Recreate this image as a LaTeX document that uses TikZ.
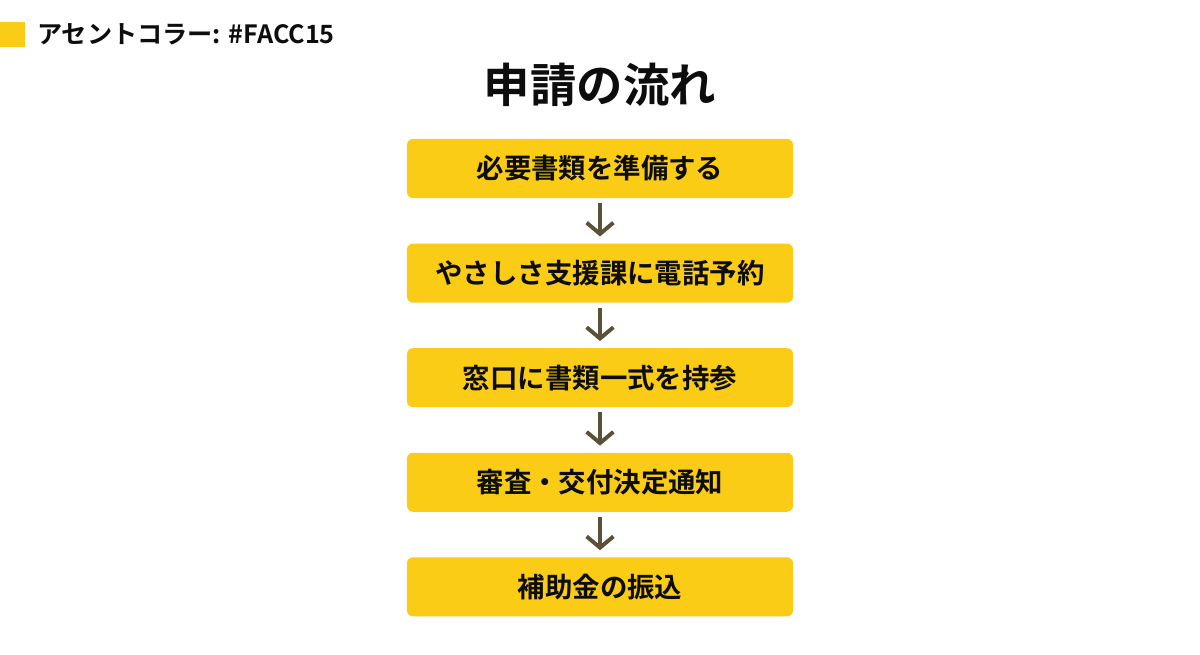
\documentclass[tikz,border=0pt]{standalone}
\usepackage{fontspec}
\setmainfont{Noto Sans CJK JP}[BoldFont={* Bold}]
\usepackage{tikz}
\usetikzlibrary{arrows.meta,positioning}
\definecolor{FlowYellow}{HTML}{FACC15}
\definecolor{FlowArrow}{HTML}{5A5236}
\definecolor{FlowText}{HTML}{0D0D0D}

\begin{document}
\begin{tikzpicture}[
        x=0.025cm,y=-0.025cm,
        node distance=1.125cm,
        stepbox/.style={fill=FlowYellow,rounded corners=0.15cm,minimum width=9.65cm,minimum height=1.475cm,inner sep=0pt,align=center,font=\bfseries\fontsize{19.5pt}{22pt}\selectfont,text=FlowText},
        arr/.style={-{Straight Barb[length=8pt,width=19pt]},line width=2.8pt,FlowArrow,shorten <=0.125cm,shorten >=0.17cm}
      ]
        \useasboundingbox (0,0) rectangle (1200,655);
        % accent label
        \node[fill=FlowYellow,minimum size=0.625cm,inner sep=0pt,anchor=north west] (swatch) at (0,22) {};
        \node[anchor=west,font=\bfseries\fontsize{17.9pt}{20pt}\selectfont,text=FlowText,inner sep=0pt] (accent) at (37,34.5) {アセントコラー: \#FACC15};
        % title
        \node[font=\bfseries\fontsize{33pt}{36pt}\selectfont,text=FlowText] (title) at (600,85) {申請の流れ};
        % steps
        \node[stepbox] (docs) at (600,168.5) {必要書類を準備する};
        \node[stepbox,below=of docs] (call) {やさしさ支援課に電話予約};
        \node[stepbox,below=of call] (visit) {窓口に書類一式を持参};
        \node[stepbox,below=of visit] (review) {審査・交付決定通知};
        \node[stepbox,below=of review] (pay) {補助金の振込};
        \draw[arr] (docs)--(call);
        \draw[arr] (call)--(visit);
        \draw[arr] (visit)--(review);
        \draw[arr] (review)--(pay);
      \end{tikzpicture}
\end{document}
